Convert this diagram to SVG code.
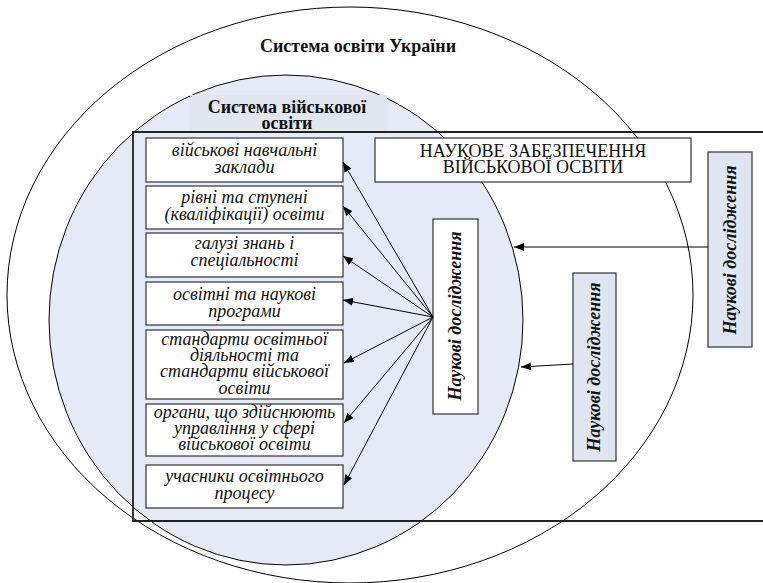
<svg xmlns="http://www.w3.org/2000/svg" width="763" height="583" viewBox="0 0 763 583">
<defs>
<marker id="ah" markerWidth="10" markerHeight="8" refX="10" refY="4" orient="auto" markerUnits="userSpaceOnUse">
<path d="M0,0 L10,4 L0,8 Z" fill="#000"/>
</marker>
<style>
.box{fill:#fff;stroke:#333;stroke-width:1.2}
.vbox{fill:#dfe6f1;stroke:#333;stroke-width:1.2}
text{font-family:'Liberation Serif','DejaVu Serif',serif;fill:#111;text-anchor:middle}
.it{font-style:italic;font-size:18px}
.hd{font-weight:bold;font-size:18px}
.vt{font-weight:bold;font-style:italic;font-size:18px}
.up{font-size:18px}
.con{stroke:#000;stroke-width:1;fill:none;marker-end:url(#ah)}
</style>
</defs>
<rect width="763" height="583" fill="#fff"/>
<g id="system-ukraine">
<ellipse cx="350" cy="295" rx="343" ry="288" fill="none" stroke="#000" stroke-width="1"/>
<text class="hd" x="358" y="52">Система освіти України</text>
</g>
<g id="system-military">
<ellipse cx="286" cy="320" rx="237" ry="245" fill="#e5ebf6" stroke="#000" stroke-width="1"/>
<rect x="190" y="95" width="197" height="37" fill="#e0e7f1"/>
<text class="hd" x="287" y="113">Система військової</text>
<text class="hd" x="287" y="129">освіти</text>
</g>
<g id="frame">
<polyline points="763,132 133,132 133,521 763,521" fill="none" stroke="#222" stroke-width="1.8"/>
</g>
<g id="n1"><rect class="box" x="146" y="138" width="197" height="44"/>
<text class="it" x="244.5" y="156">військові навчальні</text><text class="it" x="244.5" y="173">заклади</text></g>
<g id="n2"><rect class="box" x="146" y="186" width="197" height="43"/>
<text class="it" x="244.5" y="203">рівні та ступені</text><text class="it" x="244.5" y="220">(кваліфікації) освіти</text></g>
<g id="n3"><rect class="box" x="146" y="233" width="197" height="44"/>
<text class="it" x="244.5" y="249">галузі знань і</text><text class="it" x="244.5" y="266">спеціальності</text></g>
<g id="n4"><rect class="box" x="146" y="282" width="197" height="43"/>
<text class="it" x="244.5" y="300">освітні та наукові</text><text class="it" x="244.5" y="317">програми</text></g>
<g id="n5"><rect class="box" x="146" y="330" width="197" height="69"/>
<text class="it" x="244.5" y="345">стандарти освітньої</text><text class="it" x="244.5" y="361">діяльності та</text><text class="it" x="244.5" y="377">стандарти військової</text><text class="it" x="244.5" y="394">освіти</text></g>
<g id="n6"><rect class="box" x="146" y="404" width="197" height="52"/>
<text class="it" x="244.5" y="418">органи, що здійснюють</text><text class="it" x="244.5" y="434">управління у сфері</text><text class="it" x="244.5" y="450">військової освіти</text></g>
<g id="n7"><rect class="box" x="146" y="465" width="197" height="43"/>
<text class="it" x="244.5" y="482">учасники освітнього</text><text class="it" x="244.5" y="499">процесу</text></g>
<g id="science-support"><rect class="box" x="375" y="138" width="316" height="44"/>
<text class="up" x="533" y="157">НАУКОВЕ ЗАБЕЗПЕЧЕННЯ</text><text class="up" x="533" y="173">ВІЙСЬКОВОЇ ОСВІТИ</text></g>
<g id="research-center"><rect class="box" x="433" y="219" width="45" height="195"/>
<text class="vt" transform="translate(461,316) rotate(-90)">Наукові дослідження</text></g>
<g id="research-mid"><rect class="vbox" x="573" y="273" width="43" height="188"/>
<text class="vt" transform="translate(600,367) rotate(-90)">Наукові дослідження</text></g>
<g id="research-right"><rect class="vbox" x="708" y="152" width="44" height="195"/>
<text class="vt" transform="translate(736,250) rotate(-90)">Наукові дослідження</text></g>
<g id="connectors">
<line class="con" x1="433" y1="317" x2="343" y2="162"/>
<line class="con" x1="433" y1="317" x2="343" y2="206"/>
<line class="con" x1="433" y1="317" x2="343" y2="256"/>
<line class="con" x1="433" y1="317" x2="343" y2="300"/>
<line class="con" x1="433" y1="317" x2="344" y2="363"/>
<line class="con" x1="433" y1="317" x2="344" y2="423"/>
<line class="con" x1="433" y1="317" x2="344" y2="485"/>
<line class="con" x1="708" y1="247" x2="514" y2="247"/>
<line class="con" x1="573" y1="364" x2="521" y2="367"/>
</g>
</svg>
